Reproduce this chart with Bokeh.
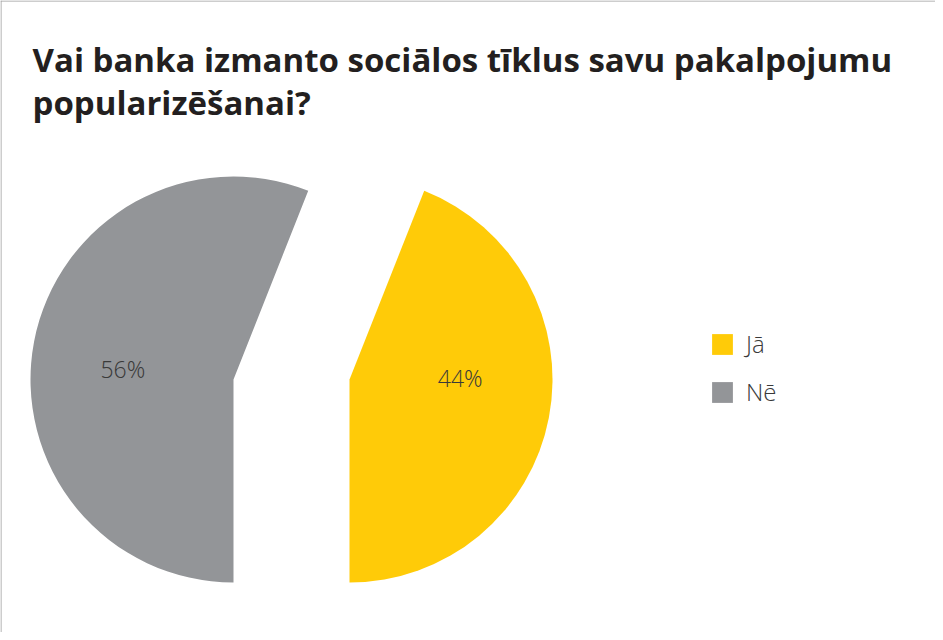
import math
from bokeh.plotting import figure
from bokeh.models import ColumnDataSource, Range1d, Legend, LegendItem, Span
from bokeh.core.properties import value
from bokeh.embed import file_html
from bokeh.resources import INLINE

# ---- data ----
title_lines = ["Vai banka izmanto sociālos tīklus savu pakalpojumu", "popularizēšanai?"]
categories = ["Jā", "Nē"]
shares = [44, 56]
colors = ["#FFCB08", "#939598"]

# ---- layout (pixels inside the figure) ----
W, H = 935, 632
cx, cy = 291, 253      # pie centre
R = 203                # radius
explode = 58           # horizontal separation of slices
LIGHT = "Open Sans Light, Open Sans"

p = figure(width=W, height=H, output_backend="svg", toolbar_location=None,
           x_range=Range1d(0, W), y_range=Range1d(0, H), min_border=0,
           background_fill_color="white", border_fill_color="white")
p.axis.visible = False
p.grid.visible = False
p.outline_line_color = None

# frame lines (top / left)
p.add_layout(Span(location=H - 0.5, dimension="width", line_color="#9b9b9b", line_width=1))
p.add_layout(Span(location=0.5, dimension="height", line_color="#9b9b9b", line_width=1))

# title
p.text(x=[32] * len(title_lines), y=[573 - 43 * i for i in range(len(title_lines))],
       text=title_lines, text_font=value("Open Sans"), text_font_style="bold",
       text_font_size="33px", text_color="#231f20", text_baseline="alphabetic",
       text_align="left")

# pie slices: start at bottom, counter-clockwise
total = float(sum(shares))
starts, ends, xs, ys, lx, ly, labels = [], [], [], [], [], [], []
a = -math.pi / 2
for s in shares:
    e = a + 2 * math.pi * s / total
    mid = (a + e) / 2
    sgn = 1 if math.cos(mid) >= 0 else -1
    vx = cx + sgn * explode
    starts.append(a); ends.append(e); xs.append(vx); ys.append(cy)
    lx.append(vx + 0.555 * R * math.cos(mid))
    ly.append(cy + 6 + 0.2 * 0.55 * R * math.sin(mid))
    labels.append(f"{s}%")
    a = e

src = ColumnDataSource(dict(x=xs, y=ys, start=starts, end=ends, color=colors,
                            cat=categories, lx=lx, ly=ly, label=labels))
w = p.wedge(x="x", y="y", radius=R, start_angle="start", end_angle="end",
            fill_color="color", line_color=None, source=src)

p.text(x="lx", y="ly", text="label", source=src, text_font=value(LIGHT),
       text_font_size="23px", text_color="#3a3a3a", text_align="center",
       text_baseline="middle")

legend = Legend(items=[LegendItem(label=c, renderers=[w], index=i) for i, c in enumerate(categories)],
                location=(709, 224), orientation="vertical",
                glyph_width=26, glyph_height=26, label_standoff=11, spacing=15,
                label_text_font=LIGHT, label_text_font_size="24px",
                label_text_color="#3a3a3a", padding=0, margin=0,
                border_line_color=None, background_fill_alpha=0)
p.add_layout(legend)

open("out.html", "w").write(file_html(p, INLINE))
